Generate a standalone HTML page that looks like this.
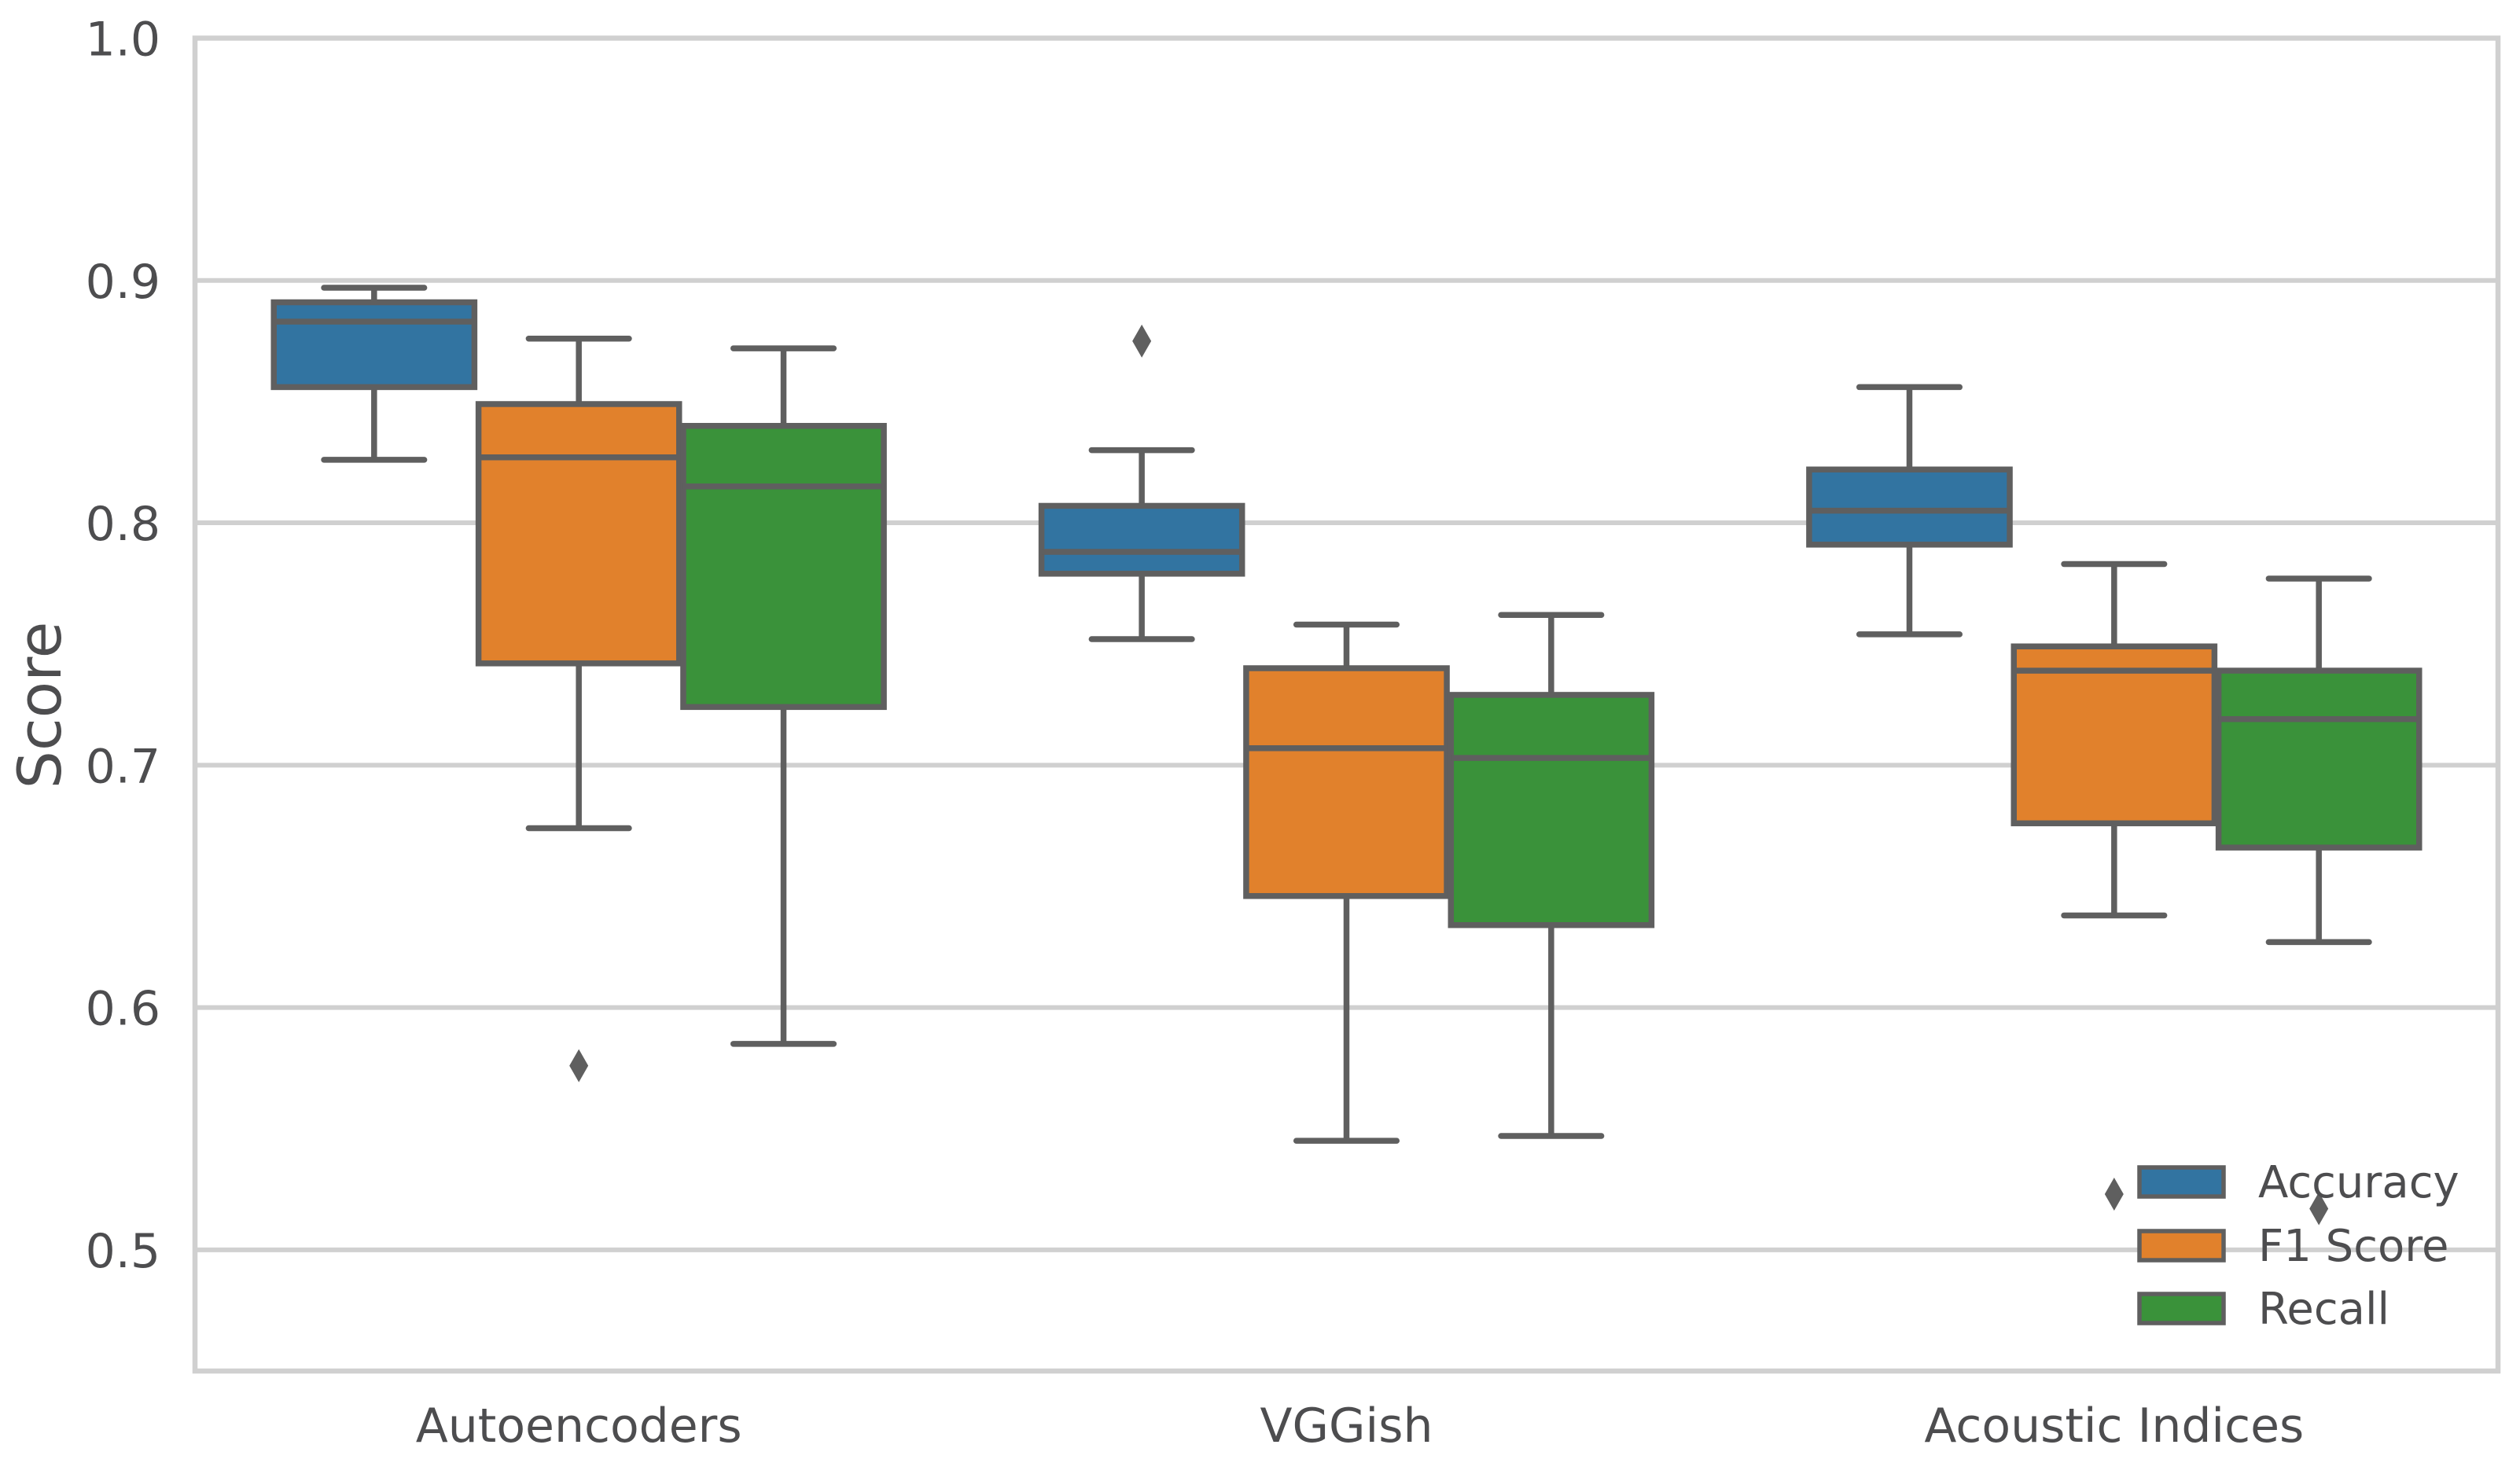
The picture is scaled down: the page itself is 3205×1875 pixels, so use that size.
<!DOCTYPE html>
<html><head><meta charset="utf-8"><style>
html,body{margin:0;padding:0;background:#fff;}
svg{display:block;font-family:"DejaVu Sans","Liberation Sans",sans-serif;}
</style></head><body>
<svg id="chart" width="3205" height="1875" viewBox="0 0 3205 1875" xmlns="http://www.w3.org/2000/svg"></svg>
<script>
const categories = ["Autoencoders", "VGGish", "Acoustic Indices"];
const seriesNames = ["Accuracy", "F1 Score", "Recall"];
const colors = ["#3274a1", "#e1812c", "#3a923a"];
// [whiskerLow, Q1, median, Q3, whiskerHigh] per category, per series
const accuracyStats = [[0.826,0.856,0.883,0.891,0.897],[0.752,0.779,0.788,0.807,0.830],[0.754,0.791,0.805,0.822,0.856]];
const f1Stats = [[0.674,0.742,0.827,0.849,0.876],[0.545,0.646,0.707,0.740,0.758],[0.638,0.676,0.739,0.749,0.783]];
const recallStats = [[0.585,0.724,0.815,0.840,0.872],[0.547,0.634,0.703,0.729,0.762],[0.627,0.666,0.719,0.739,0.777]];
const accuracyOutliers = [[],[0.875],[]];
const f1Outliers = [[0.576],[],[0.523]];
const recallOutliers = [[],[],[0.517]];
const yTicks = [0.5,0.6,0.7,0.8,0.9,1.0];
const yTickLabels = ["0.5","0.6","0.7","0.8","0.9","1.0"];

const NS="http://www.w3.org/2000/svg";
const svg=document.getElementById('chart');
const L=248,R=3177,T=48.5,B=1744,yMin=0.45,yMax=1.0;
const y=v=>B-(v-yMin)/(yMax-yMin)*(B-T);
const x=c=>L+(c+0.5)/categories.length*(R-L);
const groupW=(R-L)/categories.length;
function mk(tag,attrs,parent){const e=document.createElementNS(NS,tag);for(const k in attrs)e.setAttribute(k,attrs[k]);(parent||svg).appendChild(e);return e;}

const grid=mk('g',{});


yTicks.forEach((t,i)=>{
  const ln=mk('line',{x1:L,x2:R,y1:y(t),y2:y(t),stroke:'#d0d0d0','stroke-width':6},grid);
  
  
  const tx=mk('text',{x:204,y:y(t)+22,'text-anchor':'end','font-size':60,fill:'#4d4d4f'});
  tx.textContent=yTickLabels[i];
  
  
});

const stats=[accuracyStats,f1Stats,recallStats];
const outs=[accuracyOutliers,f1Outliers,recallOutliers];
const hueW=groupW*0.8/3, boxW=hueW*0.98;
const LC='#5f5f5f', LW=7.5;
categories.forEach((cat,ci)=>{
  seriesNames.forEach((sn,si)=>{
    const cx=x(ci)-groupW*0.4+hueW*(si+0.5);
    const s=stats[si][ci];
    const g=mk('g',{});
    
    
    mk('line',{x1:cx,x2:cx,y1:y(s[0]),y2:y(s[1]),stroke:LC,'stroke-width':LW},g);
    mk('line',{x1:cx,x2:cx,y1:y(s[3]),y2:y(s[4]),stroke:LC,'stroke-width':LW},g);
    mk('line',{x1:cx-boxW/4,x2:cx+boxW/4,y1:y(s[0]),y2:y(s[0]),stroke:LC,'stroke-width':LW,'stroke-linecap':'round'},g);
    mk('line',{x1:cx-boxW/4,x2:cx+boxW/4,y1:y(s[4]),y2:y(s[4]),stroke:LC,'stroke-width':LW,'stroke-linecap':'round'},g);
    mk('rect',{x:cx-boxW/2,y:y(s[3]),width:boxW,height:y(s[1])-y(s[3]),fill:colors[si],stroke:LC,'stroke-width':LW},g);
    mk('line',{x1:cx-boxW/2,x2:cx+boxW/2,y1:y(s[2]),y2:y(s[2]),stroke:LC,'stroke-width':LW},g);
    outs[si][ci].forEach(o=>{
      const py=y(o);
      const d=mk('path',{d:`M${cx} ${py-21} L${cx+12} ${py} L${cx} ${py+21} L${cx-12} ${py} Z`,fill:LC},g);
      
      
    });
  });
  const lbl=mk('text',{x:x(ci),y:1834,'text-anchor':'middle','font-size':60,fill:'#4d4d4f'});
  lbl.textContent=cat;
  
  
});

const frame=mk('rect',{x:L,y:T,width:R-L,height:B-T,fill:'none',stroke:'#d0d0d0','stroke-width':6.5});



const yl=mk('text',{x:0,y:0,'text-anchor':'middle','font-size':76,fill:'#4d4d4f',transform:'translate(77,897) rotate(-90)'});
yl.textContent='Score';



const leg=mk('g',{});


const legY=[1482,1563,1643];
seriesNames.forEach((sn,si)=>{
  const e=mk('g',{},leg);
  
  
  mk('rect',{x:2721,y:legY[si]+3,width:107,height:37,fill:colors[si],stroke:LC,'stroke-width':5.5},e);
  const t=mk('text',{x:2872,y:legY[si]+41,'font-size':56,fill:'#4d4d4f'},e);
  t.textContent=sn;
});
</script>
</body></html>
